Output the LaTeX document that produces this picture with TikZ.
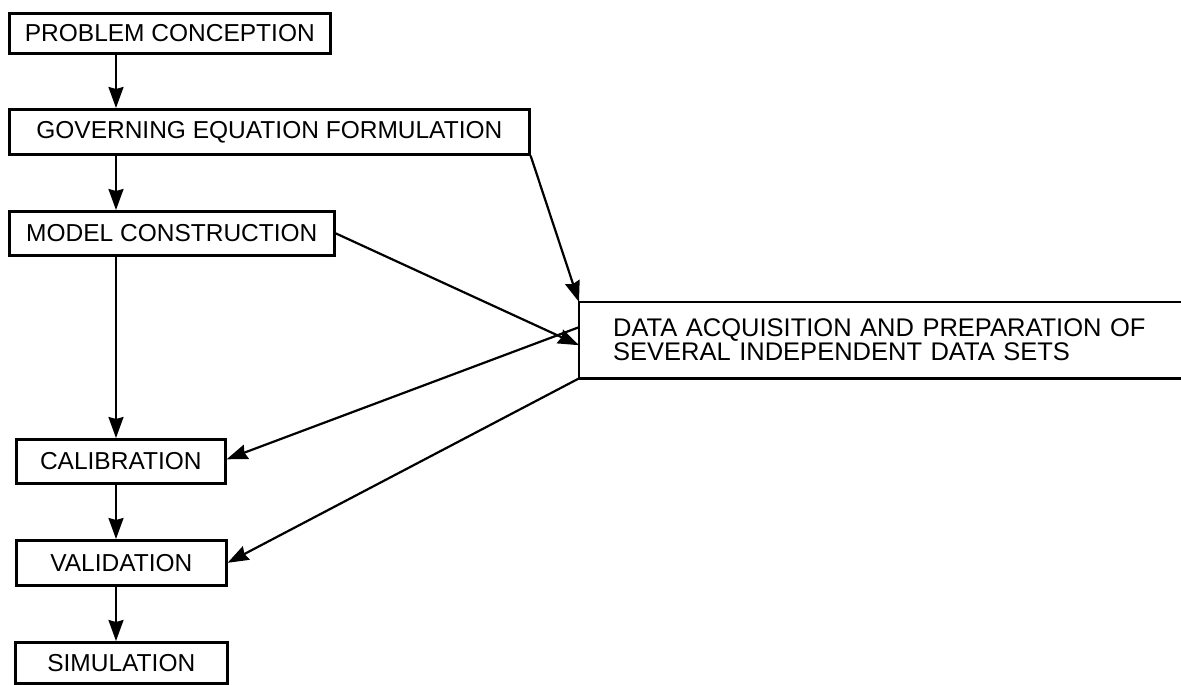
\documentclass[tikz,border=0pt]{standalone}
\usepackage{fontspec}
\setmainfont{Liberation Sans}
\usetikzlibrary{arrows.meta}

\begin{document}
\begin{tikzpicture}[x=1pt,y=1pt,yscale=-1,
  stepbox/.style={draw,line width=2.6pt,anchor=north west,inner sep=0pt,
    font=\fontsize{24.5}{26}\selectfont},
  databox/.style={anchor=north west,inner xsep=34pt,inner ysep=0pt,
    text width=552pt,align=left,font=\fontsize{25.5}{24}\selectfont},
  flow/.style={line width=2.2pt,-{Stealth[length=21pt,width=15pt,inset=2pt]}}]
\useasboundingbox (0,0) rectangle (1181,685);
\clip (0,0) rectangle (1181,685);

% Text Node
\node [stepbox,minimum width=321pt,minimum height=40pt] (prob) at (8,12) {PROBLEM CONCEPTION};
% Text Node
\node [stepbox,minimum width=520pt,minimum height=45pt] (gov) at (8,108) {GOVERNING EQUATION FORMULATION};
% Text Node
\node [stepbox,minimum width=325pt,minimum height=44pt] (model) at (8,210) {MODEL CONSTRUCTION};
% Text Node
\node [stepbox,minimum width=209pt,minimum height=44pt] (cal) at (15,438) {CALIBRATION};
% Text Node
\node [stepbox,minimum width=210pt,minimum height=45pt] (val) at (15,539) {VALIDATION};
% Text Node
\node [stepbox,minimum width=212pt,minimum height=41pt] (sim) at (14,641) {SIMULATION};
% Text Node
\node [databox,minimum height=76pt] (data) at (579,302) {DATA ACQUISITION AND PREPARATION OF\\SEVERAL INDEPENDENT DATA SETS};
% Box, open at the right
\draw [line width=2.6pt] (data.north east) -- (data.north west) -- (data.south west) -- (data.south east);

\coordinate (spine) at (116,0);
% Connection
\draw [flow] (prob.south -| spine) -- (gov.north -| spine);
% Connection
\draw [flow] (gov.south -| spine) -- (model.north -| spine);
% Connection
\draw [flow] (model.south -| spine) -- (cal.north -| spine);
% Connection
\draw [flow] (cal.south -| spine) -- (val.north -| spine);
% Connection
\draw [flow] (val.south -| spine) -- (sim.north -| spine);
% Connection
\draw [flow] (gov.south east) -- (data.north west);
% Connection
\draw [flow] (model.east) -- ([yshift=5pt]data.west);
% Connection
\draw [flow] ([yshift=-13pt]data.west) -- ([yshift=-2pt]cal.east);
% Connection
\draw [flow] (data.south west) -- (val.east);

\end{tikzpicture}
\end{document}
